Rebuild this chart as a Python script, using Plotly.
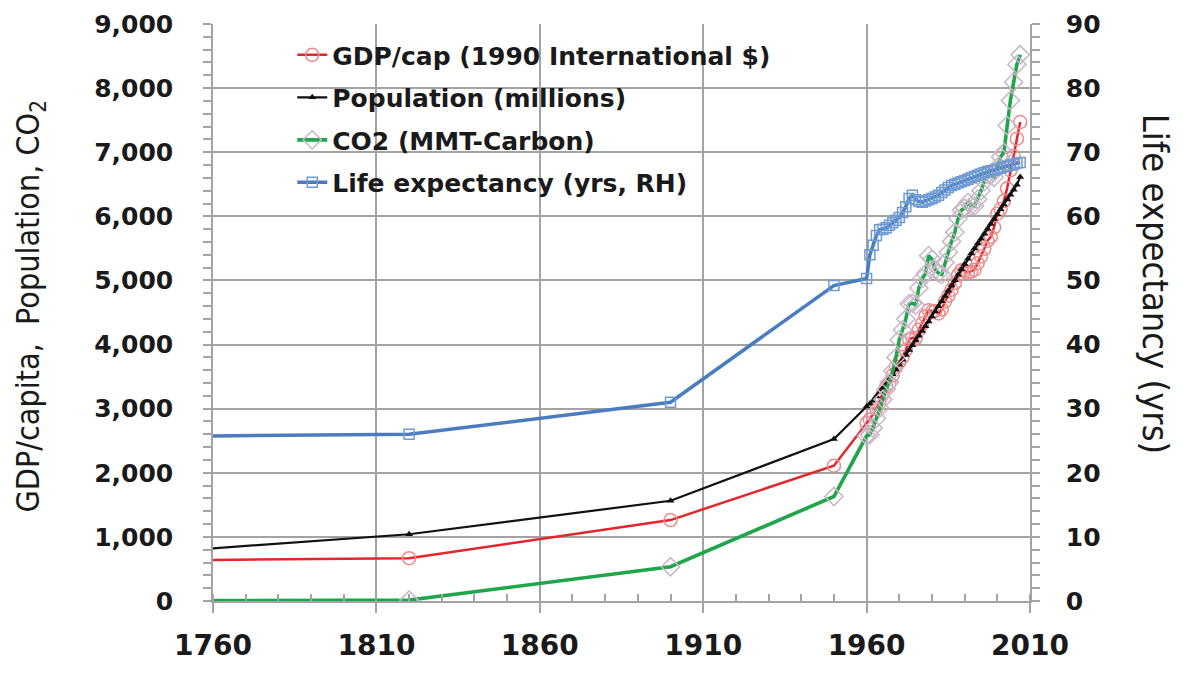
import plotly.graph_objects as go

# ---------------- data ----------------
years_early = [1700, 1820, 1900, 1950]
years_annual = [1960, 1961, 1962, 1963, 1964, 1965, 1966, 1967, 1968, 1969,
                1970, 1971, 1972, 1973, 1974, 1975, 1976, 1977, 1978, 1979,
                1980, 1981, 1982, 1983, 1984, 1985, 1986, 1987, 1988, 1989,
                1990, 1991, 1992, 1993, 1994, 1995, 1996, 1997, 1998, 1999,
                2000, 2001, 2002, 2003, 2004, 2005, 2006, 2007]

gdp_early = [615, 667, 1262, 2111]
gdp_annual = [2773, 2832, 2924, 3001, 3137, 3236, 3343, 3402, 3520, 3653,
              3729, 3805, 3919, 4080, 4105, 4098, 4232, 4327, 4442, 4537,
              4515, 4524, 4485, 4547, 4673, 4760, 4856, 4960, 5085, 5159,
              5149, 5123, 5138, 5165, 5269, 5373, 5494, 5620, 5681, 5827,
              6041, 6113, 6239, 6437, 6717, 6940, 7211, 7470]

pop_early = [603, 1041, 1563, 2525]
pop_annual = [3035, 3076, 3129, 3193, 3258, 3325, 3395, 3464, 3535, 3609,
              3685, 3762, 3839, 3915, 3991, 4066, 4139, 4212, 4286, 4361,
              4438, 4516, 4596, 4677, 4757, 4838, 4920, 5004, 5089, 5173,
              5257, 5339, 5419, 5497, 5575, 5652, 5729, 5806, 5882, 5958,
              6034, 6110, 6186, 6262, 6338, 6414, 6491, 6615]

co2_early = [0, 14, 534, 1630]
co2_annual = [2577, 2594, 2700, 2848, 3008, 3145, 3305, 3411, 3588, 3800,
              4076, 4231, 4399, 4635, 4644, 4615, 4883, 5029, 5105, 5387,
              5332, 5168, 5113, 5094, 5280, 5439, 5607, 5752, 5965, 6097,
              6127, 6217, 6164, 6162, 6266, 6398, 6542, 6651, 6643, 6610,
              6765, 6927, 6996, 7416, 7807, 8093, 8370, 8520]

life_early = [25.5, 26.0, 31.0, 49.2]
life_annual = [50.3, 54.0, 55.5, 57.0, 57.9, 58.0, 58.2, 58.6, 59.0, 59.4,
               59.8, 60.6, 61.5, 62.8, 63.3, 62.6, 62.3, 62.2, 62.4, 62.6,
               62.8, 63.0, 63.3, 63.7, 64.1, 64.5, 64.8, 65.0, 65.2, 65.4,
               65.6, 65.8, 66.0, 66.2, 66.4, 66.6, 66.8, 67.0, 67.1, 67.2,
               67.4, 67.5, 67.7, 67.8, 68.0, 68.1, 68.3, 68.4]

series_names = ["GDP/cap (1990 International $)", "Population (millions)",
                "CO2 (MMT-Carbon)", "Life expectancy (yrs, RH)"]

left_title = "GDP/capita,  Population, CO<sub>2</sub>"
right_title = "Life expectancy (yrs)"

x_all = years_early + years_annual

fig = go.Figure()

fig.add_trace(go.Scatter(
    x=x_all, y=gdp_early + gdp_annual, name=series_names[0], legendgroup="a",
    mode="lines+markers",
    line=dict(color="#e3262b", width=2.5),
    marker=dict(symbol="circle-open", size=13, color="#ee8a8a", line=dict(width=1.5)),
))
fig.add_trace(go.Scatter(
    x=x_all, y=pop_early + pop_annual, name=series_names[1], legendgroup="b",
    mode="lines+markers",
    line=dict(color="#111111", width=2.2),
    marker=dict(symbol="triangle-up", size=7, color="#111111"),
))
fig.add_trace(go.Scatter(
    x=x_all, y=co2_early + co2_annual, name=series_names[2], legendgroup="c",
    mode="lines+markers",
    line=dict(color="#1fa64a", width=3.6),
    marker=dict(symbol="diamond-open", size=14, color="#c9b6c6", line=dict(width=1.5)),
))
fig.add_trace(go.Scatter(
    x=x_all, y=life_early + life_annual, name=series_names[3], legendgroup="d",
    mode="lines+markers", yaxis="y2",
    line=dict(color="#4a7dc0", width=3.5),
    marker=dict(symbol="square-open", size=10, color="#6f9bd3", line=dict(width=1.5)),
))

tick_font = dict(family="DejaVu Sans", size=25, color="#1a1a1a", weight="bold")
grid_col = "#a3a3a3"
title_family = "Liberation Sans Narrow, DejaVu Sans Condensed, Lato"

fig.update_layout(
    width=1175, height=667,
    margin=dict(l=205, r=153, t=16, b=74, autoexpand=False),
    paper_bgcolor="white", plot_bgcolor="white",
    showlegend=True,
    legend=dict(
        x=0.097, y=0.986, xanchor="left", yanchor="top",
        bgcolor="rgba(0,0,0,0)", borderwidth=0,
        font=dict(family="DejaVu Sans", size=25, color="#1a1a1a", weight="bold"),
        tracegroupgap=7,
    ),
    xaxis=dict(
        range=[1760, 2010], dtick=50, tick0=1760, automargin=False,
        showgrid=True, gridcolor=grid_col, gridwidth=1.5,
        showline=True, linecolor=grid_col, linewidth=1.5,
        ticks="outside", ticklen=10, tickcolor=grid_col, tickwidth=1.5,
        minor=dict(dtick=10, ticks="inside", ticklen=7, tickcolor=grid_col, showgrid=False),
        tickfont=dict(family="DejaVu Sans", size=28, color="#1a1a1a", weight="bold"),
        ticklabelstandoff=9, ticklabeloverflow="allow",
        zeroline=False,
    ),
    yaxis=dict(
        range=[0, 9000], dtick=1000, tickformat=",d", automargin=False,
        showgrid=True, gridcolor=grid_col, gridwidth=1.5,
        showline=True, linecolor=grid_col, linewidth=1.5,
        ticks="outside", ticklen=8, tickcolor=grid_col, tickwidth=1.5,
        minor=dict(dtick=200, ticks="outside", ticklen=8, tickcolor=grid_col, showgrid=False),
        tickfont=tick_font, ticklabelstandoff=25, ticklabeloverflow="allow",
        zeroline=False,
    ),
    yaxis2=dict(
        range=[0, 90], dtick=10, overlaying="y", side="right", automargin=False,
        showgrid=False,
        showline=True, linecolor=grid_col, linewidth=1.5,
        ticks="outside", ticklen=8, tickcolor=grid_col, tickwidth=1.5,
        minor=dict(dtick=2, ticks="outside", ticklen=8, tickcolor=grid_col, showgrid=False),
        tickfont=tick_font, ticklabelstandoff=21, ticklabeloverflow="allow",
        zeroline=False,
    ),
    annotations=[
        dict(text=left_title, xref="paper", yref="paper",
             x=-0.224, y=0.512, textangle=-90, showarrow=False,
             xanchor="center", yanchor="middle",
             font=dict(family=title_family, size=32, color="#1a1a1a")),
        dict(text=right_title, xref="paper", yref="paper",
             x=1.154, y=0.55, textangle=90, showarrow=False,
             xanchor="center", yanchor="middle",
             font=dict(family=title_family, size=36, color="#1a1a1a")),
    ],
)

fig.write_html("out.html")
